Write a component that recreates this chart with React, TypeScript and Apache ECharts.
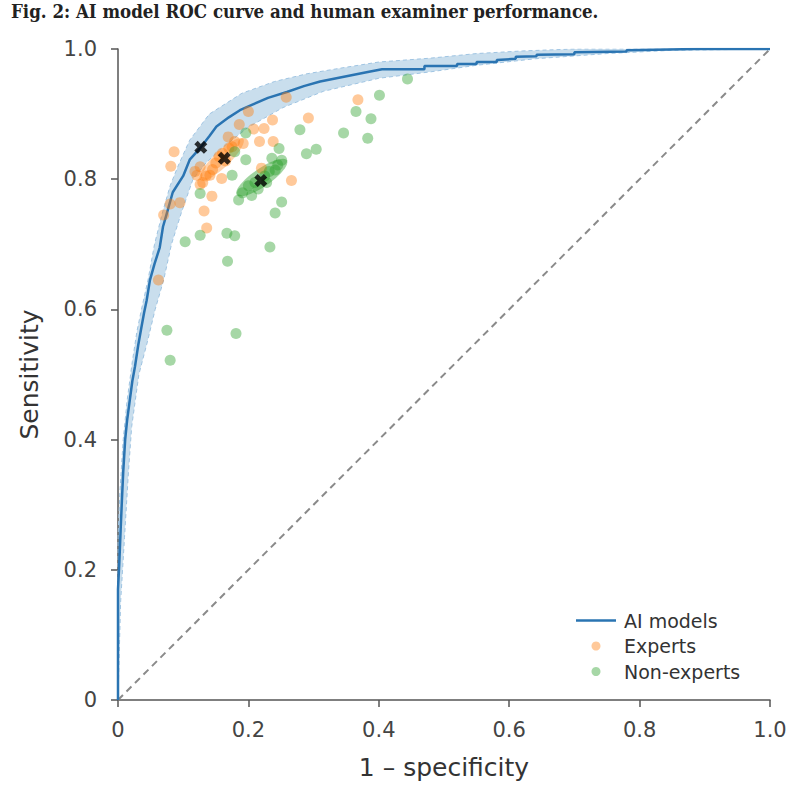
import React, { useEffect, useRef } from "react";
import * as echarts from "echarts";

const titleText = "Fig. 2: AI model ROC curve and human examiner performance.";

const rocX = [0, 0, 0.002, 0.004, 0.006, 0.008, 0.011, 0.014, 0.018, 0.022, 0.026, 0.031, 0.036, 0.04, 0.044, 0.049, 0.056, 0.064, 0.069, 0.075, 0.084, 0.1, 0.11, 0.127, 0.14, 0.151, 0.17, 0.187, 0.207, 0.23, 0.259, 0.285, 0.31, 0.335, 0.36, 0.385, 0.405, 0.47, 0.47, 0.52, 0.52, 0.55, 0.55, 0.581, 0.581, 0.61, 0.61, 0.642, 0.642, 0.7, 0.7, 0.78, 0.78, 0.887, 1];
const rocY = [0, 0.17, 0.21, 0.26, 0.307, 0.35, 0.4, 0.43, 0.46, 0.49, 0.512, 0.545, 0.573, 0.595, 0.614, 0.645, 0.67, 0.695, 0.727, 0.748, 0.78, 0.805, 0.83, 0.849, 0.866, 0.881, 0.895, 0.906, 0.915, 0.925, 0.934, 0.943, 0.95, 0.955, 0.96, 0.965, 0.969, 0.969, 0.974, 0.974, 0.977, 0.977, 0.98, 0.98, 0.983, 0.985, 0.988, 0.989, 0.991, 0.992, 0.995, 0.996, 0.998, 1.0, 1.0];

const bandUpperX = [0, 0, 0.003, 0.008, 0.014, 0.022, 0.029, 0.036, 0.046, 0.056, 0.068, 0.08, 0.092, 0.11, 0.14, 0.19, 0.24, 0.29, 0.35, 0.4, 0.48, 0.55, 0.62, 0.7, 1];
const bandUpperY = [0, 0.25, 0.32, 0.4, 0.46, 0.52, 0.566, 0.6, 0.645, 0.7, 0.748, 0.79, 0.82, 0.86, 0.9, 0.932, 0.95, 0.962, 0.972, 0.98, 0.986, 0.993, 0.997, 1.0, 1.0];
const bandLowerX = [0, 0.004, 0.01, 0.016, 0.021, 0.032, 0.045, 0.057, 0.07, 0.082, 0.097, 0.115, 0.135, 0.156, 0.2, 0.253, 0.315, 0.4, 0.48, 0.55, 0.64, 0.75, 0.85, 1];
const bandLowerY = [0, 0.15, 0.25, 0.35, 0.42, 0.5, 0.55, 0.6, 0.645, 0.7, 0.748, 0.8, 0.825, 0.845, 0.88, 0.91, 0.935, 0.955, 0.965, 0.975, 0.985, 0.993, 0.998, 1];

const expertX = [0.258, 0.368, 0.2, 0.292, 0.237, 0.186, 0.208, 0.224, 0.169, 0.179, 0.192, 0.217, 0.238, 0.086, 0.081, 0.118, 0.126, 0.121, 0.141, 0.126, 0.159, 0.22, 0.266, 0.144, 0.08, 0.095, 0.132, 0.07, 0.136, 0.062, 0.15, 0.16, 0.17, 0.145, 0.135, 0.175, 0.155, 0.165, 0.13];
const expertY = [0.926, 0.922, 0.904, 0.894, 0.891, 0.884, 0.877, 0.878, 0.865, 0.858, 0.855, 0.858, 0.858, 0.842, 0.82, 0.812, 0.819, 0.806, 0.806, 0.792, 0.801, 0.817, 0.798, 0.774, 0.762, 0.764, 0.751, 0.745, 0.725, 0.645, 0.825, 0.84, 0.848, 0.815, 0.805, 0.85, 0.835, 0.828, 0.795];

const nonExpertX = [0.444, 0.401, 0.365, 0.388, 0.346, 0.383, 0.279, 0.304, 0.289, 0.247, 0.236, 0.196, 0.196, 0.175, 0.179, 0.126, 0.251, 0.241, 0.167, 0.179, 0.103, 0.126, 0.233, 0.168, 0.075, 0.181, 0.08, 0.251, 0.241, 0.191, 0.2, 0.21, 0.225, 0.232, 0.205, 0.215, 0.245, 0.185, 0.228];
const nonExpertY = [0.954, 0.929, 0.904, 0.893, 0.871, 0.863, 0.876, 0.846, 0.839, 0.847, 0.832, 0.83, 0.871, 0.806, 0.842, 0.778, 0.765, 0.748, 0.717, 0.713, 0.704, 0.714, 0.696, 0.674, 0.568, 0.563, 0.522, 0.829, 0.814, 0.779, 0.79, 0.795, 0.805, 0.812, 0.775, 0.785, 0.822, 0.768, 0.795];

const meanX = [0.127, 0.163, 0.219];
const meanY = [0.849, 0.832, 0.798];

// confidence ellipses: major-axis end points (data) and half width (px)
const ellipseStart = [[0.126, 0.799], [0.182, 0.776]];
const ellipseEnd = [[0.192, 0.862], [0.259, 0.829]];
const ellipseHalfWidth = [8, 9];
const ellipseColors = ["rgba(255,127,14,0.35)", "rgba(44,160,44,0.45)"];

const FONT = "'DejaVu Sans', sans-serif";
const TITLE_FONT = "'DejaVu Serif', serif";
const xPath = "path://M0,2.6 L2.6,0 L5,2.4 L7.4,0 L10,2.6 L7.6,5 L10,7.4 L7.4,10 L5,7.6 L2.6,10 L0,7.4 L2.4,5 Z";

export default function App() {
  const ref = useRef<HTMLDivElement>(null);
  useEffect(() => {
    document.body.style.margin = "0";
    const chart = echarts.init(ref.current!, null, { renderer: "svg" });
    const zip = (a: number[], b: number[]) => a.map((v, i) => [v, b[i]]);

    // fit the title to its width in the reference
    let titleScale = 1;
    const ctx = document.createElement("canvas").getContext("2d");
    if (ctx) {
      ctx.font = `bold 18px ${TITLE_FONT}`;
      const w = ctx.measureText(titleText).width;
      if (w > 0) titleScale = 588 / w;
    }

    const option: any = {
      animation: false,
      backgroundColor: "#ffffff",
      graphic: [
        {
          type: "text",
          x: 11,
          y: 12,
          scaleX: titleScale,
          style: {
            text: titleText,
            font: `bold 18px ${TITLE_FONT}`,
            fill: "#222",
            verticalAlign: "middle",
            align: "left",
          },
        },
      ],
      grid: { left: 118, top: 49, width: 652, height: 651 },
      legend: {
        data: [
          { name: "AI models", icon: "path://M0,0 L40,0 L40,2.6 L0,2.6 Z" },
          { name: "Experts", icon: "circle" },
          { name: "Non-experts", icon: "circle" },
        ],
        orient: "vertical",
        left: 571,
        top: 606,
        itemWidth: 40,
        itemHeight: 9,
        itemGap: 6.5,
        textStyle: { fontFamily: FONT, fontSize: 19, color: "#333", padding: [0, 0, 0, 3] },
      },
      xAxis: {
        type: "value",
        min: 0,
        max: 1,
        interval: 0.2,
        name: "1 – specificity",
        nameLocation: "middle",
        nameGap: 55,
        nameTextStyle: { fontFamily: FONT, fontSize: 25, color: "#333" },
        axisLine: { lineStyle: { color: "#555", width: 1.5 } },
        axisTick: { show: true, length: 7, lineStyle: { color: "#555", width: 1.5 } },
        axisLabel: { margin: 19, fontFamily: FONT, fontSize: 21, color: "#444", formatter: (v: number) => (v === 0 ? "0" : v.toFixed(1)) },
        splitLine: { show: false },
      },
      yAxis: {
        type: "value",
        min: 0,
        max: 1,
        interval: 0.2,
        name: "Sensitivity",
        nameLocation: "middle",
        nameGap: 76,
        nameTextStyle: { fontFamily: FONT, fontSize: 25, color: "#333" },
        axisLine: { show: true, lineStyle: { color: "#555", width: 1.5 } },
        axisTick: { show: true, length: 7, lineStyle: { color: "#555", width: 1.5 } },
        axisLabel: { margin: 21, fontFamily: FONT, fontSize: 21, color: "#444", formatter: (v: number) => (v === 0 ? "0" : v.toFixed(1)) },
        splitLine: { show: false },
      },
      series: [
        {
          type: "custom",
          name: "band",
          silent: true,
          z: 1,
          clip: false,
          data: [[0, 0]],
          renderItem: (_p: any, api: any) => {
            const pts: number[][] = [];
            for (let i = 0; i < bandUpperX.length; i++) pts.push(api.coord([bandUpperX[i], bandUpperY[i]]));
            for (let i = bandLowerX.length - 1; i >= 0; i--) pts.push(api.coord([bandLowerX[i], bandLowerY[i]]));
            return { type: "polygon", shape: { points: pts }, style: { fill: "rgba(31,119,180,0.24)", stroke: null } };
          },
        },
        {
          type: "line",
          name: "bandUpper",
          data: zip(bandUpperX, bandUpperY),
          symbol: "none",
          silent: true,
          z: 2,
          lineStyle: { color: "#9fc4e2", width: 1, type: [4, 3] },
        },
        {
          type: "line",
          name: "bandLower",
          data: zip(bandLowerX, bandLowerY),
          symbol: "none",
          silent: true,
          z: 2,
          lineStyle: { color: "#9fc4e2", width: 1, type: [4, 3] },
        },
        {
          type: "line",
          name: "chance",
          data: [[0, 0], [1, 1]],
          symbol: "none",
          silent: true,
          z: 2,
          lineStyle: { color: "#8a8a8a", width: 2, type: [7, 5] },
        },
        {
          type: "line",
          name: "AI models",
          data: zip(rocX, rocY),
          symbol: "none",
          z: 5,
          color: "#2a74b2",
          lineStyle: { color: "#2a74b2", width: 2.5 },
        },
        {
          type: "custom",
          name: "ellipses",
          silent: true,
          z: 6,
          data: ellipseStart.map((_, i) => [i, 0]),
          renderItem: (p: any, api: any) => {
            const i = p.dataIndex;
            const a = api.coord(ellipseStart[i]);
            const b = api.coord(ellipseEnd[i]);
            const cx = (a[0] + b[0]) / 2, cy = (a[1] + b[1]) / 2;
            const half = Math.hypot(b[0] - a[0], b[1] - a[1]) / 2;
            const ang = Math.atan2(b[1] - a[1], b[0] - a[0]);
            const w = ellipseHalfWidth[i];
            const pts: number[][] = [];
            for (let k = 0; k < 48; k++) {
              const t = (k / 48) * Math.PI * 2;
              const ex = half * Math.cos(t), ey = w * Math.sin(t);
              pts.push([cx + ex * Math.cos(ang) - ey * Math.sin(ang), cy + ex * Math.sin(ang) + ey * Math.cos(ang)]);
            }
            return { type: "polygon", shape: { points: pts }, style: { fill: ellipseColors[i], stroke: null } };
          },
        },
        {
          type: "scatter",
          name: "Experts",
          data: zip(expertX, expertY),
          symbolSize: 11,
          z: 7,
          color: "#ff7f0e",
          itemStyle: { color: "#ff7f0e", opacity: 0.42 },
        },
        {
          type: "scatter",
          name: "Non-experts",
          data: zip(nonExpertX, nonExpertY),
          symbolSize: 11,
          z: 7,
          color: "#2ca02c",
          itemStyle: { color: "#2ca02c", opacity: 0.42 },
        },
        {
          type: "scatter",
          name: "means",
          data: zip(meanX, meanY),
          symbol: xPath,
          symbolSize: 13,
          z: 9,
          itemStyle: { color: "#000" },
        },
      ],
    };
    chart.setOption(option);
    return () => chart.dispose();
  }, []);
  return <div ref={ref} style={{ width: 794, height: 800 }} />;
}
